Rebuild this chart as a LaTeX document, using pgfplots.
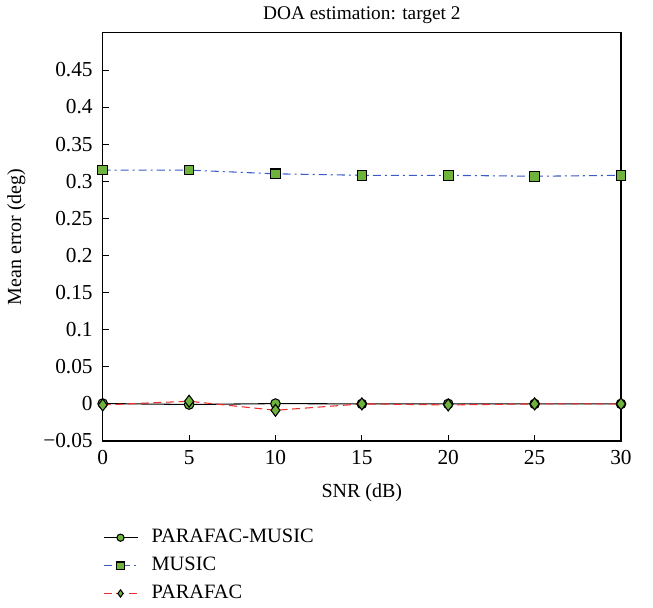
\documentclass[border=0pt]{standalone}
\usepackage{pgfplots}
\pgfplotsset{compat=1.18}
\usepackage{fontspec}
\setmainfont{Liberation Serif}
\definecolor{mfill}{RGB}{110,180,60}
\definecolor{mblue}{RGB}{60,90,200}
\definecolor{mred}{RGB}{235,45,45}
\begin{document}
\fontsize{14.5}{17}\selectfont
\begin{tikzpicture}
\begin{axis}[
  name=ax,
  scale only axis,
  width=388.5pt, height=306pt,
  xmin=0, xmax=30, ymin=-0.05, ymax=0.5,
  xtick={0,5,10,15,20,25,30},
  xticklabels={0,5,10,15,20,25,30},
  ytick={-0.05,0,0.05,0.1,0.15,0.2,0.25,0.3,0.35,0.4,0.45},
  yticklabels={−0.05,0,0.05,0.1,0.15,0.2,0.25,0.3,0.35,0.4,0.45},
  tick pos=left,
  tick align=inside,
  major tick length=4.5pt,
  tick style={black, line width=0.6pt},
  axis line style={black, line width=0.8pt},
  ticklabel style={font=\fontsize{16}{18}\selectfont},
  xticklabel style={yshift=-2pt},
  yticklabel style={xshift=-2.5pt},
  title={DOA estimation: target 2},
  title style={font=\fontsize{14.5}{17}\selectfont, yshift=-4pt},
  xlabel={SNR (dB)},
  ylabel={Mean error (deg)},
  label style={font=\fontsize{15}{17}\selectfont},
  xlabel style={yshift=-4pt},
  ylabel style={yshift=3.5pt},
  legend style={draw=none, fill=none, at={(rel axis cs:0,-0.203)}, anchor=north west,
    font=\fontsize{15.3}{17}\selectfont, row sep=4.6pt, inner xsep=0pt,
    nodes={inner sep=2pt}},
  legend cell align=left,
  legend image code/.code={\path[draw=none,fill=none] (0pt,0pt) -- (34pt,0pt);\draw[mark repeat=2,mark phase=2,#1,mark size=2.7pt] plot coordinates {(0pt,0pt)(12.75pt,0pt)(25.5pt,0pt)};},
  every axis plot/.append style={mark options={solid, fill=mfill, draw=black, line width=0.8pt}},
  clip=false,
]
\addplot[black, line width=0.8pt, mark=*, mark size=3.6pt] coordinates {
(0,0.0005) (5,-0.0008) (10,0.0004) (15,0) (20,0) (25,0) (30,0)};
\addlegendentry{PARAFAC-MUSIC}
\addplot[mblue, line width=0.8pt, dash pattern=on 6pt off 3pt on 1.5pt off 3pt, mark=square*, mark size=3.6pt] coordinates {
(0,0.315) (5,0.315) (10,0.31) (15,0.308) (20,0.308) (25,0.3067) (30,0.308)};
\addlegendentry{MUSIC}
\addplot[mred, line width=0.8pt, dash pattern=on 6pt off 3.5pt, mark=diamond*, mark size=4.5pt] coordinates {
(0,-0.0014) (5,0.0036) (10,-0.0086) (15,0) (20,-0.0014) (25,0) (30,0)};
\addlegendentry{PARAFAC}
\coordinate (bl) at (rel axis cs:0,0);
\coordinate (tr) at (rel axis cs:1,1);
\end{axis}
\path (bl) ++(-77pt,-121.5pt);
\path (tr) ++(24pt,23.25pt);
\end{tikzpicture}
\end{document}
